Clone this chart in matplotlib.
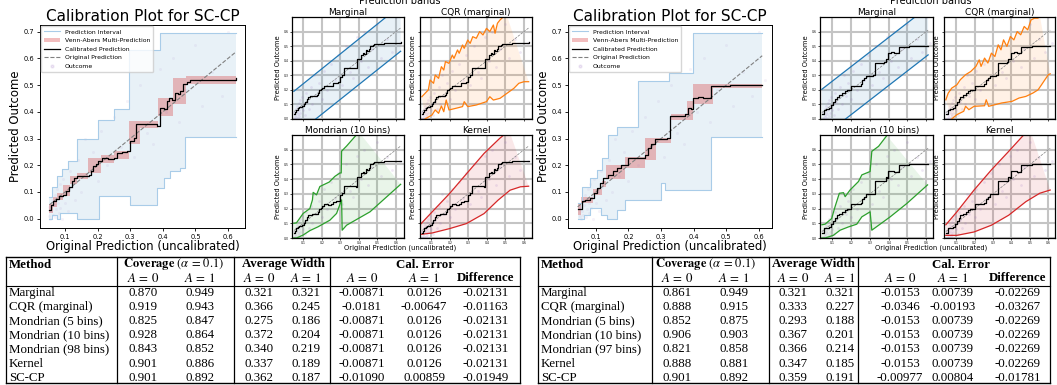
import matplotlib
matplotlib.use("Agg")
import matplotlib.pyplot as plt
import numpy as np
from matplotlib.lines import Line2D
from matplotlib.patches import Patch

W, H = 1057, 385
plt.rcParams["mathtext.fontset"] = "stix"

# ---------------- data: left figure (A) ----------------
cal_a_x = [0.052, 0.058, 0.064, 0.072, 0.080, 0.095, 0.104, 0.112, 0.120, 0.128,
           0.138, 0.150, 0.172, 0.180, 0.187, 0.195, 0.202, 0.213, 0.232, 0.249,
           0.259, 0.275, 0.290, 0.300, 0.310, 0.318, 0.382, 0.390, 0.402, 0.412,
           0.420, 0.428, 0.438, 0.446, 0.453, 0.461, 0.474, 0.484, 0.535, 0.625]
cal_a_y = [0.034, 0.050, 0.065, 0.075, 0.084, 0.090, 0.105, 0.120, 0.140, 0.153,
           0.159, 0.160, 0.165, 0.180, 0.196, 0.205, 0.215, 0.228, 0.225, 0.228,
           0.246, 0.250, 0.253, 0.290, 0.303, 0.353, 0.347, 0.415, 0.412, 0.440,
           0.450, 0.445, 0.472, 0.465, 0.478, 0.503, 0.510, 0.518, 0.520, 0.525]

va_a_x = [0.052, 0.062, 0.075, 0.095, 0.115, 0.135, 0.170, 0.210, 0.250, 0.295,
          0.330, 0.385, 0.430, 0.470, 0.625]
va_a_lo = [0.020, 0.045, 0.070, 0.085, 0.130, 0.150, 0.172, 0.210, 0.225, 0.280,
           0.340, 0.385, 0.428, 0.503, 0.503]
va_a_hi = [0.055, 0.080, 0.095, 0.125, 0.160, 0.170, 0.228, 0.240, 0.255, 0.365,
           0.365, 0.453, 0.525, 0.535, 0.535]

pi_a_x = [0.050, 0.060, 0.075, 0.085, 0.090, 0.110, 0.136, 0.138, 0.200, 0.205,
          0.250, 0.295, 0.300, 0.382, 0.390, 0.402, 0.423, 0.453, 0.469, 0.625]
pi_a_hi = [0.080, 0.120, 0.160, 0.160, 0.185, 0.215, 0.215, 0.300, 0.370, 0.370,
           0.410, 0.630, 0.630, 0.630, 0.695, 0.695, 0.695, 0.695, 0.695, 0.695]
pi_a_lo = [0.000, 0.015, 0.000, 0.020, 0.020, 0.020, 0.000, 0.000, 0.000, 0.084,
           0.084, 0.084, 0.050, 0.115, 0.115, 0.153, 0.178, 0.190, 0.305, 0.305]

marg_a_x = [0.050, 0.625]
marg_a_lo = [-0.120, 0.465]
marg_a_hi = [0.190, 0.780]

cqr_a_hi_x = [0.050, 0.067, 0.085, 0.094, 0.113, 0.122, 0.140, 0.155, 0.168, 0.177,
              0.196, 0.214, 0.223, 0.242, 0.251, 0.269, 0.278, 0.297, 0.310, 0.324,
              0.343, 0.361, 0.379, 0.398, 0.416, 0.435, 0.444, 0.457, 0.471, 0.486, 0.508]
cqr_a_hi_y = [0.153, 0.176, 0.200, 0.268, 0.245, 0.302, 0.279, 0.359, 0.336, 0.394,
              0.382, 0.439, 0.416, 0.474, 0.451, 0.508, 0.485, 0.542, 0.519, 0.565,
              0.554, 0.600, 0.577, 0.622, 0.600, 0.645, 0.588, 0.657, 0.680, 0.698, 0.710]
cqr_a_lo_x = [0.067, 0.104, 0.122, 0.140, 0.155, 0.168, 0.181, 0.196, 0.232, 0.269,
              0.278, 0.297, 0.343, 0.398, 0.416, 0.435, 0.471, 0.508, 0.545, 0.572,
              0.600, 0.625]
cqr_a_lo_y = [0.000, 0.027, 0.062, 0.039, 0.089, 0.050, 0.130, 0.062, 0.073, 0.085,
              0.119, 0.085, 0.096, 0.119, 0.153, 0.130, 0.142, 0.176, 0.210, 0.245,
              0.256, 0.256]

mond_a_hi_x = [0.050, 0.064, 0.100, 0.136, 0.150, 0.154, 0.165, 0.172, 0.190, 0.240,
               0.271, 0.298, 0.305, 0.307, 0.334, 0.400]
mond_a_hi_y = [0.100, 0.103, 0.167, 0.200, 0.259, 0.310, 0.300, 0.293, 0.350, 0.380,
               0.419, 0.442, 0.442, 0.590, 0.625, 0.720]
mond_a_lo_x = [0.050, 0.064, 0.100, 0.136, 0.180, 0.244, 0.280, 0.307, 0.310, 0.334,
               0.460, 0.625]
mond_a_lo_y = [0.000, 0.000, 0.020, 0.050, 0.076, 0.121, 0.167, 0.259, 0.053, 0.087,
               0.178, 0.365]

kern_a_hi_x = [0.046, 0.105, 0.199, 0.292, 0.385, 0.469, 0.520]
kern_a_hi_y = [0.098, 0.177, 0.302, 0.439, 0.575, 0.677, 0.730]
kern_a_lo_x = [0.046, 0.105, 0.200, 0.290, 0.385, 0.460, 0.525, 0.581, 0.625]
kern_a_lo_y = [0.025, 0.034, 0.064, 0.098, 0.166, 0.257, 0.325, 0.348, 0.352]

# ---------------- data: right figure (B) ----------------
cal_b_x = [0.044, 0.052, 0.057, 0.067, 0.083, 0.093, 0.103, 0.113, 0.123, 0.136,
           0.152, 0.166, 0.176, 0.190, 0.200, 0.225, 0.250, 0.260, 0.270, 0.281,
           0.317, 0.327, 0.352, 0.373, 0.383, 0.393, 0.398, 0.413, 0.429, 0.447,
           0.454, 0.510, 0.610]
cal_b_y = [0.037, 0.037, 0.065, 0.071, 0.078, 0.096, 0.115, 0.134, 0.153, 0.165,
           0.178, 0.190, 0.200, 0.200, 0.228, 0.228, 0.238, 0.265, 0.278, 0.298,
           0.301, 0.384, 0.384, 0.390, 0.415, 0.409, 0.453, 0.457, 0.450, 0.450,
           0.497, 0.500, 0.500]

va_b_x = [0.044, 0.055, 0.090, 0.120, 0.130, 0.190, 0.250, 0.285, 0.330, 0.378,
          0.398, 0.458, 0.610]
va_b_lo = [0.015, 0.060, 0.090, 0.120, 0.150, 0.190, 0.220, 0.285, 0.370, 0.370,
           0.430, 0.490, 0.490]
va_b_hi = [0.060, 0.080, 0.110, 0.140, 0.200, 0.230, 0.303, 0.303, 0.390, 0.440,
           0.505, 0.505, 0.505]

pi_b_x = [0.044, 0.057, 0.064, 0.083, 0.103, 0.115, 0.118, 0.133, 0.136, 0.164,
          0.166, 0.190, 0.230, 0.300, 0.312, 0.325, 0.398, 0.454, 0.610]
pi_b_hi = [0.060, 0.120, 0.120, 0.153, 0.184, 0.184, 0.228, 0.228, 0.315, 0.343,
           0.343, 0.343, 0.515, 0.515, 0.515, 0.547, 0.695, 0.695, 0.695]
pi_b_lo = [0.000, 0.000, 0.015, 0.040, 0.040, 0.015, 0.015, 0.000, 0.000, 0.000,
           0.034, 0.068, 0.068, 0.134, 0.109, 0.109, 0.109, 0.305, 0.305]

marg_b_x = [0.044, 0.610]
marg_b_lo = [-0.126, 0.440]
marg_b_hi = [0.204, 0.770]

cqr_b_hi_x = [0.044, 0.057, 0.076, 0.104, 0.122, 0.151, 0.179, 0.207, 0.225, 0.235,
              0.254, 0.272, 0.291, 0.310, 0.328, 0.343, 0.357, 0.375, 0.394, 0.413,
              0.431, 0.450, 0.469, 0.488, 0.506, 0.525, 0.544, 0.553]
cqr_b_hi_y = [0.132, 0.178, 0.212, 0.235, 0.269, 0.304, 0.326, 0.361, 0.406, 0.361,
              0.418, 0.384, 0.452, 0.429, 0.509, 0.475, 0.543, 0.498, 0.566, 0.543,
              0.600, 0.578, 0.635, 0.612, 0.680, 0.692, 0.692, 0.715]
cqr_b_lo_x = [0.076, 0.104, 0.141, 0.151, 0.169, 0.197, 0.254, 0.263, 0.276, 0.347,
              0.403, 0.441, 0.478, 0.516, 0.544, 0.563, 0.581, 0.600, 0.610]
cqr_b_lo_y = [0.000, 0.030, 0.053, 0.087, 0.064, 0.087, 0.091, 0.132, 0.087, 0.110,
              0.121, 0.144, 0.155, 0.178, 0.200, 0.235, 0.269, 0.304, 0.310]

mond_b_hi_x = [0.044, 0.061, 0.096, 0.114, 0.137, 0.159, 0.168, 0.194, 0.239, 0.257,
               0.301, 0.310, 0.346, 0.390]
mond_b_hi_y = [0.090, 0.094, 0.132, 0.212, 0.304, 0.308, 0.281, 0.326, 0.384, 0.429,
               0.452, 0.589, 0.623, 0.696]
mond_b_lo_x = [0.044, 0.061, 0.105, 0.141, 0.185, 0.230, 0.257, 0.301, 0.310, 0.408,
               0.497, 0.607]
mond_b_lo_y = [0.000, 0.000, 0.018, 0.053, 0.075, 0.094, 0.144, 0.178, 0.053, 0.144,
               0.235, 0.361]

kern_b_hi_x = [0.044, 0.104, 0.197, 0.291, 0.385, 0.460, 0.500]
kern_b_hi_y = [0.090, 0.178, 0.326, 0.463, 0.589, 0.692, 0.740]
kern_b_lo_x = [0.044, 0.104, 0.197, 0.291, 0.385, 0.478, 0.553, 0.610]
kern_b_lo_y = [0.018, 0.018, 0.041, 0.087, 0.155, 0.247, 0.304, 0.326]

# faint outcome points (shared look in both figures)
out_x = [0.050, 0.052, 0.055, 0.058, 0.060, 0.062, 0.065, 0.068, 0.070, 0.072,
         0.075, 0.078, 0.080, 0.083, 0.085, 0.088, 0.090, 0.095, 0.100, 0.105,
         0.110, 0.115, 0.120, 0.130, 0.140, 0.150, 0.160, 0.170, 0.185, 0.200,
         0.210, 0.230, 0.250, 0.270, 0.290, 0.310, 0.330, 0.350, 0.370, 0.390,
         0.410, 0.430, 0.450, 0.470, 0.500, 0.520, 0.550, 0.580, 0.600, 0.620]
out_y = [0.010, 0.045, 0.000, 0.030, 0.070, 0.015, 0.050, 0.090, 0.005, 0.035,
         0.110, 0.060, 0.020, 0.130, 0.040, 0.080, 0.000, 0.150, 0.060, 0.100,
         0.030, 0.180, 0.120, 0.070, 0.220, 0.100, 0.300, 0.160, 0.250, 0.140,
         0.330, 0.200, 0.380, 0.270, 0.440, 0.230, 0.500, 0.320, 0.280, 0.560,
         0.400, 0.600, 0.360, 0.480, 0.650, 0.420, 0.550, 0.460, 0.700, 0.520]

# ---------------- table data ----------------
col_heads = ["Method", "Average Width", "Cal. Error", "Difference"]
methods_a = ["Marginal", "CQR (marginal)", "Mondrian (5 bins)", "Mondrian (10 bins)",
             "Mondrian (98 bins)", "Kernel", "SC-CP"]
cov0_a = ["0.870", "0.919", "0.825", "0.928", "0.843", "0.901", "0.901"]
cov1_a = ["0.949", "0.943", "0.847", "0.864", "0.852", "0.886", "0.892"]
wid0_a = ["0.321", "0.366", "0.275", "0.372", "0.340", "0.337", "0.362"]
wid1_a = ["0.321", "0.245", "0.186", "0.204", "0.219", "0.189", "0.187"]
cal0_a = ["-0.00871", "-0.0181", "-0.00871", "-0.00871", "-0.00871", "-0.00871", "-0.01090"]
cal1_a = ["0.0126", "-0.00647", "0.0126", "0.0126", "0.0126", "0.0126", "0.00859"]
diff_a = ["-0.02131", "-0.01163", "-0.02131", "-0.02131", "-0.02131", "-0.02131", "-0.01949"]

methods_b = ["Marginal", "CQR (marginal)", "Mondrian (5 bins)", "Mondrian (10 bins)",
             "Mondrian (97 bins)", "Kernel", "SC-CP"]
cov0_b = ["0.861", "0.888", "0.852", "0.906", "0.821", "0.888", "0.901"]
cov1_b = ["0.949", "0.915", "0.875", "0.903", "0.858", "0.881", "0.892"]
wid0_b = ["0.321", "0.333", "0.293", "0.367", "0.366", "0.347", "0.359"]
wid1_b = ["0.321", "0.227", "0.188", "0.201", "0.214", "0.185", "0.191"]
cal0_b = ["-0.0153", "-0.0346", "-0.0153", "-0.0153", "-0.0153", "-0.0153", "-0.00977"]
cal1_b = ["0.00739", "-0.00193", "0.00739", "0.00739", "0.00739", "0.00739", "0.00804"]
diff_b = ["-0.02269", "-0.03267", "-0.02269", "-0.02269", "-0.02269", "-0.02269", "-0.01781"]

PI_EDGE = "#a9cce8"
SERIF = "Liberation Serif"
TFS = 9.3
fig = plt.figure(figsize=(W / 100, H / 100), dpi=100)


def px_axes(left, top, right, bottom):
    return fig.add_axes([left / W, 1 - bottom / H, (right - left) / W, (bottom - top) / H])


def draw_big(box, xlim, cal_x, cal_y, va_x, va_lo, va_hi, pi_x, pi_lo, pi_hi):
    ax = px_axes(*box)
    ax.fill_between(pi_x, pi_lo, pi_hi, step="post", color="tab:blue", alpha=0.1, lw=0)
    ax.step(pi_x, pi_hi, where="post", color=PI_EDGE, lw=0.8)
    ax.step(pi_x, pi_lo, where="post", color=PI_EDGE, lw=0.8)
    ax.fill_between(va_x, va_lo, va_hi, step="post", color="tab:red", alpha=0.3, lw=0)
    ax.scatter(out_x, out_y, s=5, color="tab:purple", alpha=0.08, lw=0)
    d = [cal_x[0], cal_x[-1]]
    ax.plot(d, d, ls="--", color="gray", lw=0.8)
    ax.step(cal_x, cal_y, where="post", color="black", lw=0.9)
    ax.set_xlim(*xlim)
    ax.set_ylim(-0.035, 0.725)
    ax.set_xticks([0.1, 0.2, 0.3, 0.4, 0.5, 0.6])
    ax.set_yticks([0.0, 0.1, 0.2, 0.3, 0.4, 0.5, 0.6, 0.7])
    ax.tick_params(labelsize=4.8, length=2.5, width=0.6, pad=2)
    for s in ax.spines.values():
        s.set_linewidth(0.7)
    ax.set_title("Calibration Plot for SC-CP", fontsize=11, pad=3)
    ax.set_xlabel("Original Prediction (uncalibrated)", fontsize=8.4, labelpad=0)
    ax.set_ylabel("Predicted Outcome", fontsize=8.4, labelpad=1)
    handles = [Line2D([], [], color=PI_EDGE, lw=0.8),
               Patch(facecolor="tab:red", alpha=0.3),
               Line2D([], [], color="black", lw=0.9),
               Line2D([], [], color="gray", ls="--", lw=0.8),
               Line2D([], [], color="tab:purple", alpha=0.15, marker="o", ls="none", markersize=2)]
    labels = ["Prediction Interval", "Venn-Abers Multi-Prediction", "Calibrated Prediction",
              "Original Prediction", "Outcome"]
    ax.legend(handles, labels, loc="upper left", fontsize=4.4, handlelength=2.6,
              borderpad=0.5, labelspacing=0.55, framealpha=0.8, borderaxespad=0.2,
              fancybox=True)


def draw_small(box, xlim, title, color, hi_x, hi_y, lo_x, lo_y, cal_x, cal_y, show_x, show_y):
    ax = px_axes(*box)
    poly_x = np.concatenate([hi_x, lo_x[::-1]])
    poly_y = np.concatenate([hi_y, lo_y[::-1]])
    ax.fill(poly_x, poly_y, color=color, alpha=0.1, lw=0)
    ax.plot(hi_x, hi_y, color=color, lw=0.9)
    ax.plot(lo_x, lo_y, color=color, lw=0.9)
    ax.scatter(out_x, out_y, s=4, color="tab:purple", alpha=0.15, lw=0)
    d = [cal_x[0], cal_x[-1]]
    ax.plot(d, d, ls="--", color="gray", lw=0.5)
    ax.step(cal_x, cal_y, where="post", color="black", lw=0.9)
    ax.set_xlim(*xlim)
    ax.set_ylim(0, 0.7)
    ax.set_xticks([0.1, 0.2, 0.3, 0.4, 0.5, 0.6])
    ax.set_yticks([0.0, 0.1, 0.2, 0.3, 0.4, 0.5, 0.6])
    ax.grid(True, color="#c4c4c4", lw=1.5)
    ax.set_axisbelow(True)
    ax.tick_params(labelsize=2.2, length=1.5, width=0.5, pad=1,
                   labelbottom=show_x, labelleft=show_y)
    for s in ax.spines.values():
        s.set_linewidth(0.9)
    ax.set_title(title, fontsize=6.5, pad=1.5)
    ax.set_ylabel("Predicted Outcome", fontsize=4.9, labelpad=1.5)


def draw_group(x0, x1, x2, x3, xlim, marg, cqr, mond, kern, cal_x, cal_y, label_x):
    draw_small((x0, 17, x1, 119), xlim, "Marginal", "tab:blue", marg[0], marg[2], marg[0], marg[1],
               cal_x, cal_y, False, True)
    draw_small((x2, 17, x3, 119), xlim, "CQR (marginal)", "tab:orange", *cqr, cal_x, cal_y, False, False)
    draw_small((x0, 135, x1, 238), xlim, "Mondrian (10 bins)", "tab:green", *mond, cal_x, cal_y, True, True)
    draw_small((x2, 135, x3, 238), xlim, "Kernel", "tab:red", *kern, cal_x, cal_y, True, False)
    # the band title sits partly above the top edge, as in the reference
    bg.text(label_x, 1.5, "Prediction bands", fontsize=7, ha="center", va="center")
    bg.text(label_x, 247.5, "Original Prediction (uncalibrated)", fontsize=4.9, ha="center", va="center")


def draw_table(L, R, seps, cols, heads, methods, cols_data):
    top, mid, bot = 257, 286, 382.5
    bg.plot([L, R], [top, top], color="black", lw=1.0)
    bg.plot([L, R], [mid, mid], color="black", lw=0.8)
    bg.plot([L, R], [bot, bot], color="black", lw=1.0)
    for xv in [L] + seps + [R]:
        bg.plot([xv, xv], [top, bot], color="black", lw=0.9)
    r1, r2 = 264.5, 278.0
    bg.text(L + 3, r1, col_heads[0], fontsize=TFS, fontweight="bold", family=SERIF, va="center")
    bg.text(heads[0], r1, r"$\mathbf{Coverage}\ (\alpha\,=\,0.1)$", fontsize=TFS - 0.3,
            ha="center", va="center")
    bg.text(heads[1], r1, col_heads[1], fontsize=TFS, fontweight="bold", family=SERIF,
            ha="center", va="center")
    bg.text(heads[2], r1, col_heads[2], fontsize=TFS, fontweight="bold", family=SERIF,
            ha="center", va="center")
    subs = [r"$A\,=\,0$", r"$A\,=\,1$", r"$A\,=\,0$", r"$A\,=\,1$", r"$A\,=\,0$", r"$A\,=\,1$"]
    for cx, s in zip(cols[:6], subs):
        bg.text(cx, r2, s, fontsize=TFS, ha="center", va="center")
    bg.text(cols[6], r2, col_heads[3], fontsize=TFS, fontweight="bold", family=SERIF,
            ha="center", va="center")
    for i, m in enumerate(methods):
        yy = 292.7 + 14.2 * i
        bg.text(L + 3, yy, m, fontsize=TFS, family=SERIF, va="center")
        for cx, vals in zip(cols, cols_data):
            bg.text(cx, yy, vals[i], fontsize=TFS, family=SERIF, ha="center", va="center")


bg = fig.add_axes([0, 0, 1, 1], zorder=5)
bg.set_xlim(0, W)
bg.set_ylim(H, 0)
bg.axis("off")

# left figure
draw_big((40, 25, 245, 228), (0.023, 0.652), cal_a_x, cal_a_y, va_a_x, va_a_lo, va_a_hi,
         pi_a_x, pi_a_lo, pi_a_hi)
draw_group(292, 404, 420, 532, (0.040, 0.643),
           (marg_a_x, marg_a_lo, marg_a_hi),
           (cqr_a_hi_x, cqr_a_hi_y, cqr_a_lo_x, cqr_a_lo_y),
           (mond_a_hi_x, mond_a_hi_y, mond_a_lo_x, mond_a_lo_y),
           (kern_a_hi_x, kern_a_hi_y, kern_a_lo_x, kern_a_lo_y),
           cal_a_x, cal_a_y, 400)

# right figure
draw_big((568, 25, 772, 228), (0.0145, 0.640), cal_b_x, cal_b_y, va_b_x, va_b_lo, va_b_hi,
         pi_b_x, pi_b_lo, pi_b_hi)
draw_group(820, 933, 944, 1055, (0.034, 0.636),
           (marg_b_x, marg_b_lo, marg_b_hi),
           (cqr_b_hi_x, cqr_b_hi_y, cqr_b_lo_x, cqr_b_lo_y),
           (mond_b_hi_x, mond_b_hi_y, mond_b_lo_x, mond_b_lo_y),
           (kern_b_hi_x, kern_b_hi_y, kern_b_lo_x, kern_b_lo_y),
           cal_b_x, cal_b_y, 931)

draw_table(6, 520, [117, 234, 330], [143, 200, 259, 306, 362, 424, 485.5], [174, 283.5, 425],
           methods_a, [cov0_a, cov1_a, wid0_a, wid1_a, cal0_a, cal1_a, diff_a])
draw_table(538, 1050, [652, 769, 858], [677, 734, 793, 840, 900, 953, 1018], [706, 813.5, 961],
           methods_b, [cov0_b, cov1_b, wid0_b, wid1_b, cal0_b, cal1_b, diff_b])

fig.savefig("out.png", dpi=100)
